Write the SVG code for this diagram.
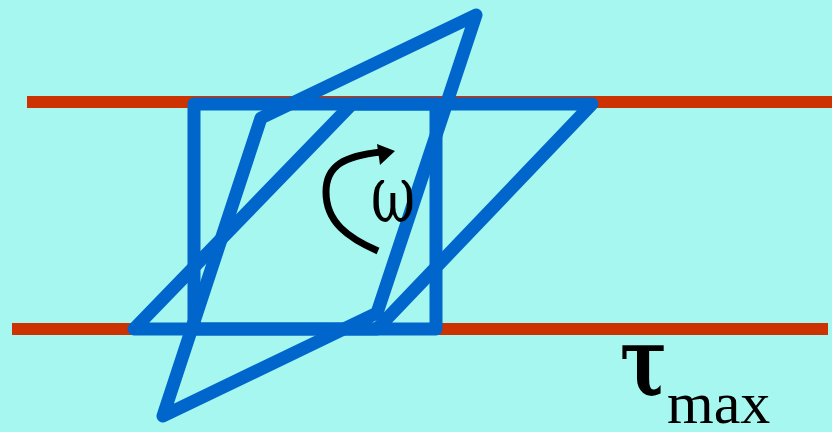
<svg xmlns="http://www.w3.org/2000/svg" width="832" height="432" viewBox="0 0 832 432">
<style>
.red{stroke:#CC3300;stroke-width:12;fill:none}
.blue{stroke:#0066CC;stroke-width:13;fill:none;stroke-linejoin:round;stroke-linecap:round}
.t{font-family:"Liberation Serif",serif;fill:#000}
.g{font-family:"DejaVu Serif",serif;fill:#000}
</style>
<rect width="832" height="432" fill="#A6F7EF"/>
<g id="planes">
<line class="red" x1="27" y1="102" x2="832" y2="102"/>
<line class="red" x1="12" y1="329" x2="828" y2="329"/>
</g>
<g id="square"><polygon class="blue" points="194,104 436,104 436,329 194,329"/></g>
<g id="wide"><polygon class="blue" points="134,329 352,104 592,104 377,329"/></g>
<g id="tall"><polygon class="blue" points="476,15 261,118 163,416 377,313"/></g>
<g id="connectors">
<path d="M378,251 C348,238 326,222 326,192 C326,165 345,156 381,152" stroke="#000" stroke-width="7" fill="none"/>
<polygon points="377,144 395,151 380,165" fill="#000"/>
</g>
<g id="labels">
<text class="g" font-size="54" transform="translate(371,222) scale(1,1.5)">ω</text>
<text class="g" font-size="74" font-weight="bold" transform="translate(620,395) scale(0.95,1.3)">τ</text>
<text class="t" x="667" y="423" font-size="60">max</text>
</g>
</svg>
